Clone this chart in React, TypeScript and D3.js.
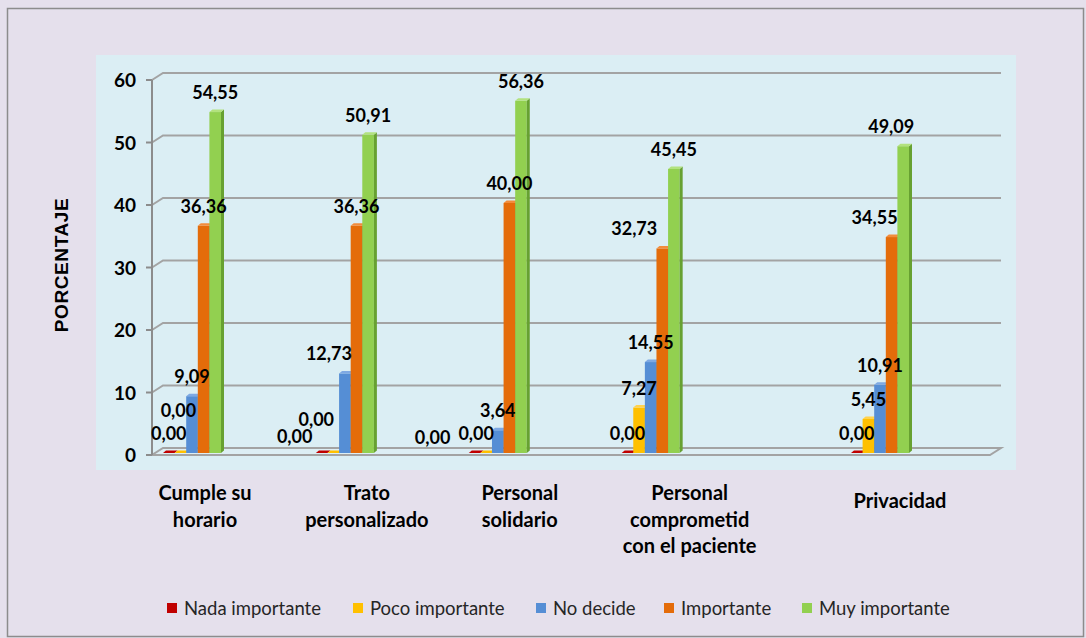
import * as d3 from 'd3';

const categoryLines = [
  ['Cumple su', 'horario'],
  ['Trato', 'personalizado'],
  ['Personal', 'solidario'],
  ['Personal', 'comprometid', 'con el paciente'],
  ['Privacidad'],
];
// slot of each category along the floor (the last group sits further right)
const categorySlot = [0, 1, 2, 3, 4.5];

const seriesNames = ['Nada importante', 'Poco importante', 'No decide', 'Importante', 'Muy importante'];
const nadaImportante = [0, 0, 0, 0, 0];
const pocoImportante = [0, 0, 0, 7.27, 5.45];
const noDecide = [9.09, 12.73, 3.64, 14.55, 10.91];
const importante = [36.36, 36.36, 40.0, 32.73, 34.55];
const muyImportante = [54.55, 50.91, 56.36, 45.45, 49.09];
const yTicks = [0, 10, 20, 30, 40, 50, 60];

const seriesValues = [nadaImportante, pocoImportante, noDecide, importante, muyImportante];

// bar colours: front, side, top
const palette = [
  ['#C00000', '#7F0000', '#E23A3A'],
  ['#FFC000', '#BF9000', '#FFD24D'],
  ['#558ED5', '#3B67A3', '#7EA9E3'],
  ['#E46C0A', '#A84F06', '#F28C3C'],
  ['#92D050', '#67A131', '#B2E27E'],
];

// hand-moved data labels in the source chart: [series][category] -> [dx, dy]
const labelNudge: Record<string, [number, number]> = {
  '0-1': [-27, 3],
  '0-2': [-42, 4],
  '1-0': [-2, -23],
  '1-1': [-17, -14],
  '1-2': [-10, 0],
  '2-1': [-16, 0],
  '3-3': [-28, 0],
  '3-4': [-17, 0],
  '4-4': [-12, 0],
};

// category label offsets from the group centre line
const categoryLabelShift: [number, number][] = [
  [-7, 0],
  [2, 0],
  [2, 0],
  [19, 0],
  [0, 8],
];

const legendX = [167, 353, 536, 664, 802];

const fmt = (v: number) => v.toFixed(2).replace('.', ',');

export default function App() {
  const width = 1086;
  const height = 638;
  const axisX = 152;
  const depthX = 11;
  const depthY = -7;
  const floorRight = 990;
  const barW = 11.6;
  const barDX = 3;
  const barDY = -2.5;

  const y = d3.scaleLinear().domain([0, 60]).range([455, 80]);
  const yBar = (v: number) => y(v) - 2;
  const x = d3.scaleLinear().domain([0, 4.5]).range([163, 851]);

  const labelFont = 'Lato, "Open Sans", sans-serif';

  return (
    <svg
      width={width}
      height={height}
      viewBox={`0 0 ${width} ${height}`}
      style={{ position: 'absolute', left: 0, top: 0, display: 'block' }}
    >
      <rect x={0} y={0} width={width} height={height} fill="#E5E0EC" />
      <rect x={7.5} y={8.5} width={1076} height={628} fill="#E5E0EC" stroke="#8C8C8C" strokeWidth={1.5} />
      <rect x={96} y={55} width={920} height={415} fill="#DBEEF4" />

      {/* back wall gridlines */}
      {yTicks
        .filter((t) => t > 0)
        .map((t) => (
          <path
            key={t}
            d={`M${axisX},${y(t)}L${axisX + depthX},${y(t) + depthY}H${floorRight + depthX}`}
            fill="none"
            stroke="#A3A3A3"
            strokeWidth={2}
          />
        ))}

      {/* floor */}
      <path
        d={`M${axisX},${y(0)}L${floorRight},${y(0)}L${floorRight + depthX},${y(0) + depthY}L${axisX + depthX},${y(0) + depthY}Z`}
        fill="#DDEEF4"
        stroke="#A3A3A3"
        strokeWidth={2}
      />

      {/* y axis */}
      <line x1={axisX} x2={axisX} y1={y(60)} y2={y(0)} stroke="#8C8C8C" strokeWidth={2} />
      {yTicks.map((t) => (
        <g key={t}>
          <line x1={axisX - 6} x2={axisX} y1={y(t)} y2={y(t)} stroke="#8C8C8C" strokeWidth={2} />
          <text
            x={136}
            y={y(t) + 7}
            textAnchor="end"
            fontFamily={labelFont}
            fontWeight={700}
            fontSize={19}
            fill="#000"
          >
            {t}
          </text>
        </g>
      ))}

      <text
        transform={`translate(68,265) rotate(-90)`}
        textAnchor="middle"
        fontFamily='"Liberation Sans", Arial, sans-serif'
        fontWeight={700}
        fontSize={19}
        letterSpacing={0.6}
        fill="#000"
      >
        PORCENTAJE
      </text>

      {/* bars */}
      {seriesValues.map((vals, s) =>
        vals.map((v, c) => {
          const x0 = x(categorySlot[c]) + s * barW;
          const x1 = x0 + barW;
          const top = yBar(v);
          const base = yBar(0);
          const [front, side, cap] = palette[s];
          return (
            <g key={`${s}-${c}`}>
              {v > 0 && <rect x={x0} y={top} width={barW} height={base - top} fill={front} />}
              {v > 0 && (
                <path
                  d={`M${x1},${top}L${x1 + barDX},${top + barDY}L${x1 + barDX},${base + barDY}L${x1},${base}Z`}
                  fill={side}
                />
              )}
              <path
                d={`M${x0},${top}L${x0 + barDX},${top + barDY}L${x1 + barDX},${top + barDY}L${x1},${top}Z`}
                fill={v > 0 ? cap : front}
              />
            </g>
          );
        }),
      )}

      {/* data labels */}
      {seriesValues.map((vals, s) =>
        vals.map((v, c) => {
          const [dx, dy] = labelNudge[`${s}-${c}`] ?? [0, 0];
          const cx = x(categorySlot[c]) + s * barW + barW / 2;
          return (
            <text
              key={`l${s}-${c}`}
              x={cx + dx}
              y={yBar(v) - 13 + dy}
              textAnchor="middle"
              fontFamily={labelFont}
              fontWeight={700}
              fontSize={18}
              fill="#000"
            >
              {fmt(v)}
            </text>
          );
        }),
      )}

      {/* category labels */}
      {categoryLines.map((lines, c) => {
        const cx = x(categorySlot[c]) + 49 + categoryLabelShift[c][0];
        return (
          <text
            key={`c${c}`}
            x={cx}
            y={500 + categoryLabelShift[c][1]}
            textAnchor="middle"
            fontFamily={labelFont}
            fontWeight={700}
            fontSize={20}
            fill="#000"
          >
            {lines.map((ln, i) => (
              <tspan key={i} x={cx} dy={i === 0 ? 0 : 26.5}>
                {ln}
              </tspan>
            ))}
          </text>
        );
      })}

      {/* legend */}
      {seriesNames.map((name, s) => (
        <g key={name} transform={`translate(${legendX[s]},0)`}>
          <rect x={0} y={603} width={10} height={10} fill={palette[s][0]} />
          <text x={17} y={615} fontFamily={labelFont} fontSize={18.5} fill="#262626">
            {name}
          </text>
        </g>
      ))}
    </svg>
  );
}
